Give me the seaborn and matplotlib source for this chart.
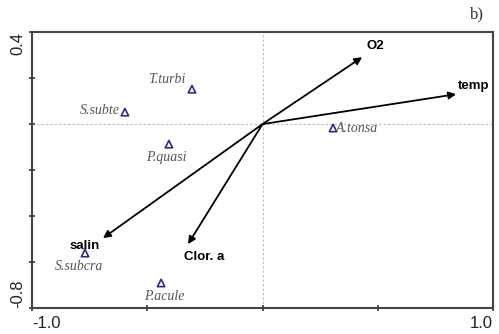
import numpy as np
import pandas as pd
import matplotlib
matplotlib.use('Agg')
import matplotlib.pyplot as plt
import seaborn as sns

# species scores
species = ['T.turbi', 'S.subte', 'P.quasi', 'A.tonsa', 'S.subcra', 'P.acule']
sp_x = [-0.306, -0.597, -0.406, 0.306, -0.770, -0.440]
sp_y = [0.152, 0.052, -0.087, -0.017, -0.561, -0.691]

# environmental vectors
env = ['O2', 'temp', 'salin', 'Clor. a']
env_x = [0.432, 0.840, -0.692, -0.323]
env_y = [0.291, 0.130, -0.496, -0.522]

df = pd.DataFrame({'sp': species, 'x': sp_x, 'y': sp_y})

sns.set_style('white')
plt.rcParams['font.family'] = ['Liberation Sans', 'DejaVu Sans']

fig = plt.figure(figsize=(4.99, 3.34), dpi=100)
ax = fig.add_axes([0.0641, 0.0778, 0.924, 0.826])

# reference lines through origin
ax.axhline(0, color='#bbbbbb', lw=0.8, ls=(0, (2, 2)), zorder=0)
ax.axvline(0, color='#bbbbbb', lw=0.8, ls=(0, (2, 2)), zorder=0)

sns.scatterplot(data=df, x='x', y='y', marker='^', s=28, facecolors='none',
                edgecolor='#2b2b8c', linewidth=1.2, ax=ax, zorder=3)

# species labels (offsets in points)
sp_off = {'T.turbi': (-5, 7, 'right'), 'S.subte': (-4, 1, 'right'),
          'P.quasi': (-2, -10, 'center'), 'A.tonsa': (2, 0, 'left'),
          'S.subcra': (-4, -10, 'center'), 'P.acule': (2, -10, 'center')}
for s, x, y in zip(species, sp_x, sp_y):
    dx, dy, ha = sp_off[s]
    ax.annotate(s, (x, y), xytext=(dx, dy), textcoords='offset points',
                ha=ha, va='center', fontsize=10, style='italic',
                color='#555555', family=['Liberation Serif', 'DejaVu Serif'])

# arrows
env_off = {'O2': (3, 8, 'left'), 'temp': (1, 6, 'left'),
           'salin': (-24, -6, 'left'), 'Clor. a': (-3, -9, 'left')}
for e, x, y in zip(env, env_x, env_y):
    ax.annotate('', xy=(x, y), xytext=(0, 0),
                arrowprops=dict(arrowstyle='-|>', color='black', lw=1.3,
                                mutation_scale=11, shrinkA=0, shrinkB=0))
    dx, dy, ha = env_off[e]
    ax.annotate(e, (x, y), xytext=(dx, dy), textcoords='offset points',
                ha=ha, va='center', fontsize=9.5, fontweight='bold', color='black')

ax.set_xlim(-1.0, 1.0)
ax.set_ylim(-0.8, 0.4)
ax.set_xlabel('')
ax.set_ylabel('')

ax.set_xticks([-1.0, -0.5, 0.0, 0.5, 1.0])
ax.set_xticklabels(['-1.0', '', '', '', '1.0'], fontsize=12)
ax.set_yticks([-0.8, -0.6, -0.4, -0.2, 0.0, 0.2, 0.4])
ax.set_yticklabels(['-0.8', '', '', '', '', '', '0.4'], fontsize=12, rotation=90)
xl = ax.get_xticklabels()
xl[0].set_ha('left')
xl[-1].set_ha('right')
yl = ax.get_yticklabels()
yl[0].set_va('bottom')
yl[-1].set_va('top')
ax.tick_params(axis='both', direction='inout', length=5, width=1.2,
               color='#333333', pad=3, labelcolor='#222222',
               bottom=True, left=True)
ax.tick_params(axis='y', pad=2)

for sp in ax.spines.values():
    sp.set_color('#444444')
    sp.set_linewidth(1.5)

fig.text(0.955, 0.958, 'b)', ha='center', va='center', fontsize=12,
         family=['Liberation Serif', 'DejaVu Serif'], color='#333333')

fig.savefig('out.png', dpi=100)
